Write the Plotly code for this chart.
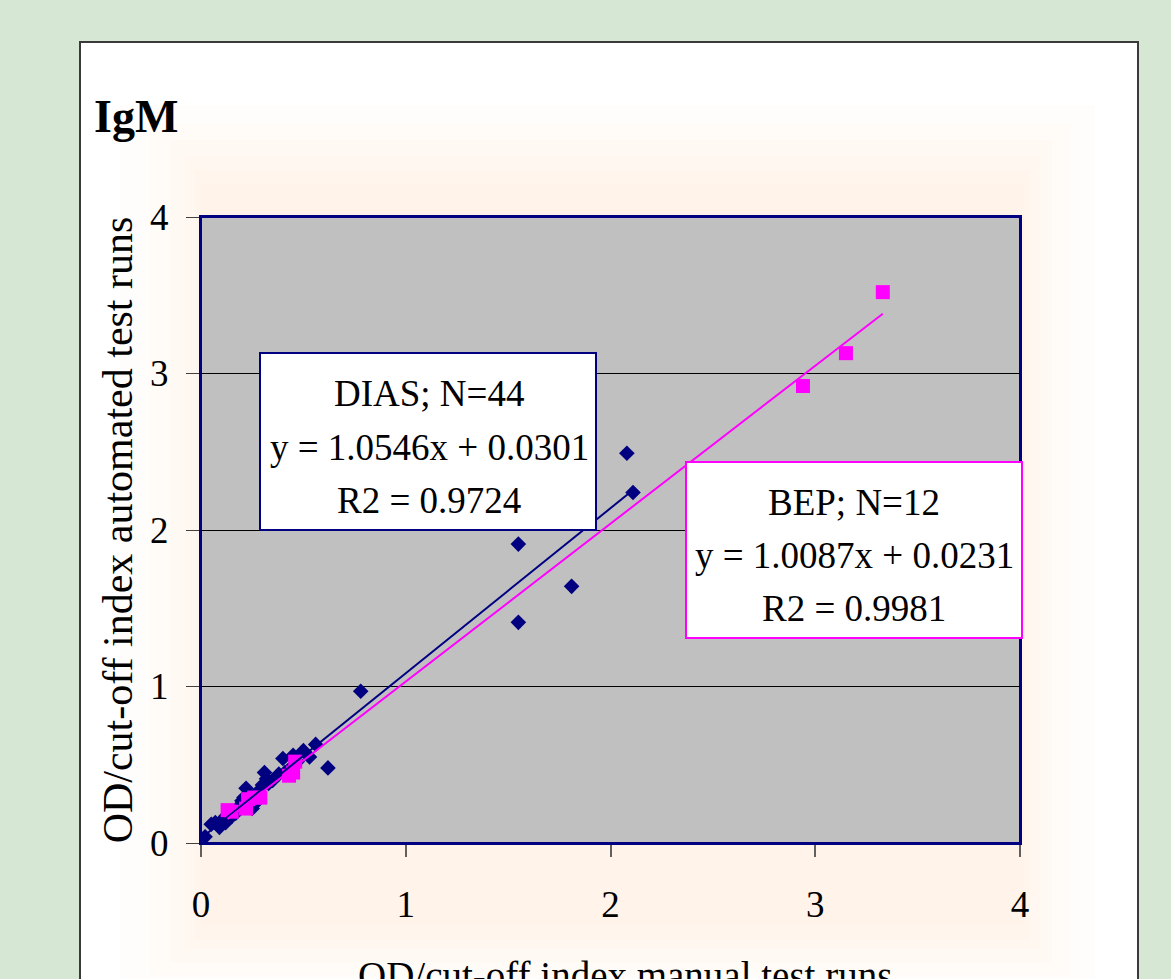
import plotly.graph_objects as go

# ---------------- data ----------------
dias_x = [1.55, 1.55, 1.81, 2.08, 2.11, 0.78, 0.62,
          0.02, 0.05, 0.07, 0.09, 0.10, 0.12, 0.13, 0.14, 0.15, 0.16,
          0.17, 0.18, 0.19, 0.20, 0.21, 0.22, 0.23, 0.24, 0.25, 0.26,
          0.27, 0.28, 0.30, 0.31, 0.32, 0.33, 0.35, 0.38, 0.40, 0.41,
          0.43, 0.45, 0.47, 0.50, 0.53, 0.56, 0.12]
dias_y = [1.91, 1.41, 1.64, 2.49, 2.24, 0.97, 0.48,
          0.04, 0.12, 0.13, 0.10, 0.14, 0.13, 0.16, 0.18, 0.17, 0.20,
          0.19, 0.22, 0.24, 0.27, 0.29, 0.35, 0.25, 0.28, 0.22, 0.30,
          0.26, 0.33, 0.37, 0.45, 0.41, 0.38, 0.40, 0.44, 0.54, 0.45,
          0.47, 0.56, 0.52, 0.59, 0.55, 0.63, 0.17]
bep_x = [0.13, 0.15, 0.22, 0.23, 0.26, 0.29, 0.43, 0.45, 0.46, 2.94, 3.15, 3.33]
bep_y = [0.21, 0.20, 0.22, 0.28, 0.29, 0.29, 0.43, 0.45, 0.52, 2.92, 3.13, 3.52]

dias_fit = (1.0546, 0.0301)   # slope, intercept
bep_fit = (1.0087, 0.0231)
dias_label = ["DIAS; N=44", "y = 1.0546x + 0.0301", "R2 = 0.9724"]
bep_label = ["BEP; N=12", "y = 1.0087x + 0.0231", "R2 = 0.9981"]
tick_vals = [0, 1, 2, 3, 4]
x_title = "OD/cut-off index manual test runs"
y_title = "OD/cut-off index automated test runs"

# ---------------- geometry helpers (pixel -> paper) ----------------
W, H = 1171, 979
L, R, T, B = 201, 1020, 217, 843
def px(x):
    return (x - L) / (R - L)
def py(y):
    return (B - y) / (B - T)

NAVY = "#000080"
MAG = "#FF00FF"
SERIF = "Liberation Serif, Times New Roman, serif"

fig = go.Figure()
fig.add_trace(go.Scatter(x=dias_x, y=dias_y, mode="markers", name="DIAS",
                         marker=dict(symbol="diamond", size=12, color=NAVY,
                                     line=dict(width=0))))
fig.add_trace(go.Scatter(x=bep_x, y=bep_y, mode="markers", name="BEP",
                         marker=dict(symbol="square", size=14, color=MAG,
                                     line=dict(width=0))))
dx = [min(dias_x), max(dias_x)]
fig.add_trace(go.Scatter(x=dx, y=[dias_fit[0] * v + dias_fit[1] for v in dx],
                         mode="lines", line=dict(color=NAVY, width=2),
                         name="DIAS fit"))
bx = [min(bep_x), max(bep_x)]
fig.add_trace(go.Scatter(x=bx, y=[bep_fit[0] * v + bep_fit[1] for v in bx],
                         mode="lines", line=dict(color=MAG, width=2),
                         name="BEP fit"))

shapes = []
# white frame
shapes.append(dict(type="rect", xref="paper", yref="paper", layer="below",
                   x0=px(80), x1=px(1138), y0=py(1000), y1=py(42),
                   fillcolor="white", line=dict(color="#3a3a3a", width=2)))
# faint peach glow (stacked soft rectangles)
for (a, b, c, d) in [(120, 1095, 105, 990), (150, 1070, 125, 975),
                     (170, 1052, 140, 962), (185, 1040, 155, 950),
                     (195, 1030, 170, 940), (200, 1024, 185, 925)]:
    shapes.append(dict(type="rect", xref="paper", yref="paper", layer="below",
                       x0=px(a), x1=px(b), y0=py(d), y1=py(c),
                       fillcolor="rgba(253,232,212,0.09)", line=dict(width=0)))
# plot area
shapes.append(dict(type="rect", xref="paper", yref="paper", layer="below",
                   x0=0, x1=1, y0=0, y1=1, fillcolor="#C0C0C0",
                   line=dict(color=NAVY, width=2)))
# label boxes
shapes.append(dict(type="rect", xref="paper", yref="paper", layer="above",
                   x0=px(260), x1=px(596), y0=py(530), y1=py(353),
                   fillcolor="white", line=dict(color=NAVY, width=2)))
shapes.append(dict(type="rect", xref="paper", yref="paper", layer="above",
                   x0=px(686), x1=px(1022), y0=py(638), y1=py(462),
                   fillcolor="white", line=dict(color=MAG, width=2)))

annotations = []
for txt, yy in zip(dias_label, [393, 447, 500]):
    annotations.append(dict(text=txt, xref="paper", yref="paper",
                            x=px(429), y=py(yy), showarrow=False,
                            xanchor="center", yanchor="middle",
                            font=dict(family=SERIF, size=37, color="black")))
for txt, yy in zip(bep_label, [502, 555, 608]):
    annotations.append(dict(text=txt, xref="paper", yref="paper",
                            x=px(854), y=py(yy), showarrow=False,
                            xanchor="center", yanchor="middle",
                            font=dict(family=SERIF, size=37, color="black")))
annotations.append(dict(text="<b>IgM</b>", xref="paper", yref="paper",
                        x=px(92), y=py(117), showarrow=False,
                        xanchor="left", yanchor="middle",
                        font=dict(family=SERIF, size=46, color="black")))
# x-axis title (sits partly below the bottom edge, as in the reference)
annotations.append(dict(text=x_title, xref="paper", yref="paper",
                        x=px(625), y=py(975), showarrow=False,
                        xanchor="center", yanchor="middle",
                        font=dict(family=SERIF, size=39, color="black")))

fig.update_layout(
    width=W, height=H,
    margin=dict(l=L, r=W - R, t=T, b=H - B, autoexpand=False),
    paper_bgcolor="#d6e7d4",
    plot_bgcolor="rgba(0,0,0,0)",
    showlegend=False,
    shapes=shapes,
    annotations=annotations,
)
fig.update_xaxes(range=[0, 4], tickvals=tick_vals, ticks="outside", ticklen=12,
                 tickcolor="#606060", tickwidth=2, showgrid=False, zeroline=False,
                 showline=True, linecolor=NAVY, linewidth=2, mirror=True,
                 ticklabelstandoff=16,
                 tickfont=dict(family=SERIF, size=37, color="black"),
                 automargin=False)
fig.update_yaxes(range=[0, 4], tickvals=tick_vals, ticks="outside", ticklen=13,
                 tickcolor="#404040", tickwidth=1, showgrid=True, gridcolor="black",
                 gridwidth=1, zeroline=False,
                 showline=True, linecolor=NAVY, linewidth=2, mirror=True,
                 ticklabelstandoff=10,
                 tickfont=dict(family=SERIF, size=37, color="black"),
                 title=dict(text=y_title, standoff=4,
                            font=dict(family=SERIF, size=42, color="black")),
                 automargin=False)

fig.write_html("out.html", config={"displayModeBar": False},
               post_script="document.body.style.margin='0';")
